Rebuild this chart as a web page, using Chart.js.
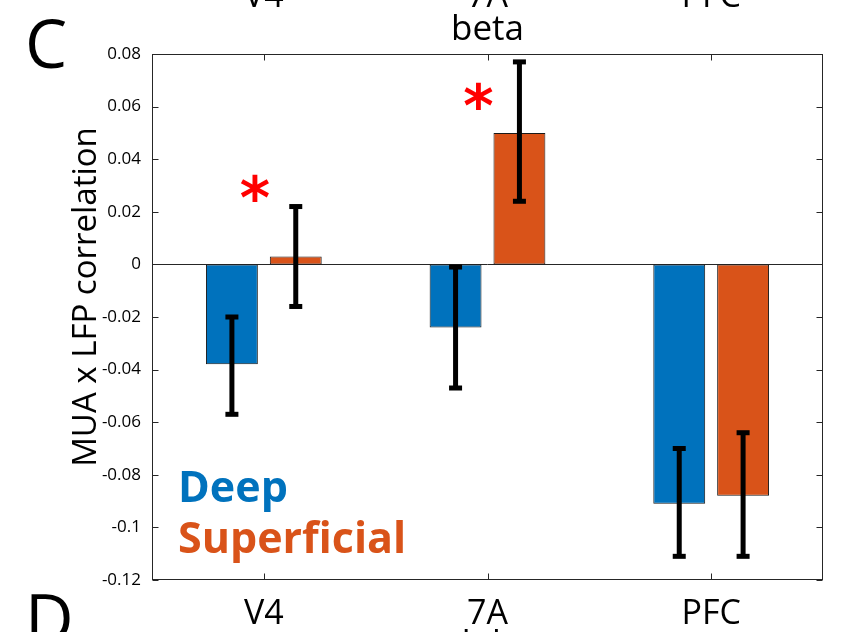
<!DOCTYPE html>
<html>
<head>
<meta charset="utf-8">
<script src="https://cdn.jsdelivr.net/npm/chart.js@4.4.0/dist/chart.umd.min.js"></script>
<style>
  html, body { margin: 0; padding: 0; background: #ffffff; }
  #wrap { width: 846px; height: 632px; position: relative; }
</style>
</head>
<body>
<div id="wrap"><canvas id="c" width="846" height="632"></canvas></div>
<script>
// Cortical areas and layer-resolved MUA x LFP correlation (beta band)
const areas = ['V4', '7A', 'PFC'];
const seriesNames = ['Deep', 'Superficial'];
const deepMean = [-0.038, -0.024, -0.091];
const supMean = [0.003, 0.050, -0.088];
// error bar extents (lower, upper)
const deepLow = [-0.057, -0.047, -0.111];
const deepHigh = [-0.020, -0.001, -0.070];
const supLow = [-0.016, 0.024, -0.111];
const supHigh = [0.022, 0.077, -0.064];
// significance markers: area and height on the y axis
const sigAreas = ['V4', '7A'];
const sigHeight = [0.029, 0.064];
// y tick labels
const yTickLabels = ['-0.12', '-0.1', '-0.08', '-0.06', '-0.04', '-0.02', '0', '0.02', '0.04', '0.06', '0.08'];
// neighbouring panel labels
const panelTitle = 'beta';
const nextPanelTitle = 'alpha';

const BLUE = '#0072BD';
const ORANGE = '#D95319';
const AXIS = '#262626';
const FONT = '"Open Sans", "Noto Sans", sans-serif';

const panelPlugin = {
  id: 'panelDecor',
  beforeDatasetsDraw(chart) {
    const { ctx, chartArea: a, scales: { y } } = chart;
    ctx.save();
    // bar baseline at zero
    const y0 = Math.round(y.getPixelForValue(0)) + 0.5;
    ctx.strokeStyle = AXIS;
    ctx.lineWidth = 1;
    ctx.beginPath();
    ctx.moveTo(a.left, y0);
    ctx.lineTo(a.right, y0);
    ctx.stroke();
    ctx.restore();
  },
  afterDatasetsDraw(chart) {
    const { ctx, chartArea: a, scales: { x, y } } = chart;
    ctx.save();

    // error bars
    const lows = [deepLow, supLow];
    const highs = [deepHigh, supHigh];
    ctx.strokeStyle = '#000';
    ctx.fillStyle = '#000';
    chart.data.datasets.forEach((ds, di) => {
      const meta = chart.getDatasetMeta(di);
      meta.data.forEach((bar, i) => {
        const cx = bar.x;
        const yl = y.getPixelForValue(lows[di][i]);
        const yh = y.getPixelForValue(highs[di][i]);
        ctx.lineWidth = 5;
        ctx.beginPath();
        ctx.moveTo(cx, yl);
        ctx.lineTo(cx, yh);
        ctx.stroke();
        ctx.fillRect(cx - 6.5, yl - 2.5, 13, 5);
        ctx.fillRect(cx - 6.5, yh - 2.5, 13, 5);
      });
    });

    // axes box
    ctx.strokeStyle = AXIS;
    ctx.lineWidth = 1;
    const L = Math.round(a.left) + 0.5, R = Math.round(a.right) - 0.5;
    const T = Math.round(a.top) + 0.5, B = Math.round(a.bottom) - 0.5;
    ctx.strokeRect(L, T, R - L, B - T);
    // inward ticks
    const tl = 6;
    ctx.beginPath();
    y.ticks.forEach(t => {
      const py = Math.round(y.getPixelForValue(t.value)) + 0.5;
      ctx.moveTo(L, py); ctx.lineTo(L + tl, py);
      ctx.moveTo(R, py); ctx.lineTo(R - tl, py);
    });
    areas.forEach((_, i) => {
      const px = Math.round(x.getPixelForValue(i)) + 0.5;
      ctx.moveTo(px, T); ctx.lineTo(px, T + tl);
      ctx.moveTo(px, B); ctx.lineTo(px, B - tl);
    });
    ctx.stroke();

    // significance asterisks
    ctx.fillStyle = '#FF0000';
    ctx.font = 'bold 58px "DejaVu Sans", sans-serif';
    ctx.textAlign = 'center';
    ctx.textBaseline = 'alphabetic';
    sigAreas.forEach((name, k) => {
      const i = areas.indexOf(name);
      const px = x.getPixelForValue(i) - 9;
      const py = y.getPixelForValue(sigHeight[k]);
      const m = ctx.measureText('*');
      const mid = (m.actualBoundingBoxAscent - m.actualBoundingBoxDescent) / 2;
      ctx.fillText('*', px, py + mid);
    });

    // in-axes legend text
    ctx.textAlign = 'left';
    ctx.font = 'bold 43px ' + FONT;
    ctx.fillStyle = BLUE;
    ctx.fillText(seriesNames[0], a.left + 26, 502);
    ctx.fillStyle = ORANGE;
    ctx.fillText(seriesNames[1], a.left + 26, 553);
    ctx.restore();
  },
  afterDraw(chart) {
    const { ctx, chartArea: a, scales: { x } } = chart;
    ctx.save();
    ctx.fillStyle = '#000';
    ctx.textBaseline = 'alphabetic';

    // panel title
    ctx.textAlign = 'center';
    ctx.font = '35px ' + FONT;
    ctx.fillText(panelTitle, (a.left + a.right) / 2, 40);

    // area labels of the panel above (cut by the top edge)
    ctx.font = '34px ' + FONT;
    areas.forEach((name, i) => {
      ctx.fillText(name, x.getPixelForValue(i), 7);
    });
    // title of the panel below (cut by the bottom edge)
    ctx.font = '35px ' + FONT;
    ctx.fillText(nextPanelTitle, (a.left + a.right) / 2, 655);

    // panel letters
    ctx.textAlign = 'left';
    ctx.font = '67px ' + FONT;
    ctx.fillText('C', 25, 68);
    ctx.fillText('D', 25, 643);

    // y axis title
    ctx.translate(96, 297);
    ctx.rotate(-Math.PI / 2);
    ctx.textAlign = 'center';
    ctx.font = '33px ' + FONT;
    ctx.fillText('MUA x LFP correlation', 0, 0);
    ctx.restore();
  }
};

new Chart(document.getElementById('c'), {
  type: 'bar',
  data: {
    labels: areas,
    datasets: [
      { label: seriesNames[0], data: deepMean, backgroundColor: BLUE, borderColor: '#1a1a1a', borderWidth: 1, borderSkipped: false },
      { label: seriesNames[1], data: supMean, backgroundColor: ORANGE, borderColor: '#1a1a1a', borderWidth: 1, borderSkipped: false }
    ]
  },
  options: {
    responsive: false,
    devicePixelRatio: 1,
    animation: false,
    categoryPercentage: 0.571,
    barPercentage: 0.8125,
    layout: { padding: { top: 54, right: 23, left: 0, bottom: 0 } },
    plugins: { legend: { display: false }, tooltip: { enabled: false } },
    scales: {
      x: {
        grid: { display: false, drawTicks: false },
        border: { display: false },
        ticks: { font: { family: FONT, size: 34 }, color: '#000', padding: 14, maxRotation: 0 },
        afterFit(s) { s.height = 52; }
      },
      y: {
        min: -0.12,
        max: 0.08,
        grid: { display: false, drawTicks: false },
        border: { display: false },
        ticks: {
          stepSize: 0.02,
          font: { family: FONT, size: 17 },
          color: '#000',
          padding: 11,
          callback(v) {
            const lab = yTickLabels.find(l => Math.abs(parseFloat(l) - v) < 1e-9);
            return lab === undefined ? '' : lab;
          }
        },
        afterFit(s) { s.width = 152; }
      }
    }
  },
  plugins: [panelPlugin]
});
</script>
</body>
</html>
